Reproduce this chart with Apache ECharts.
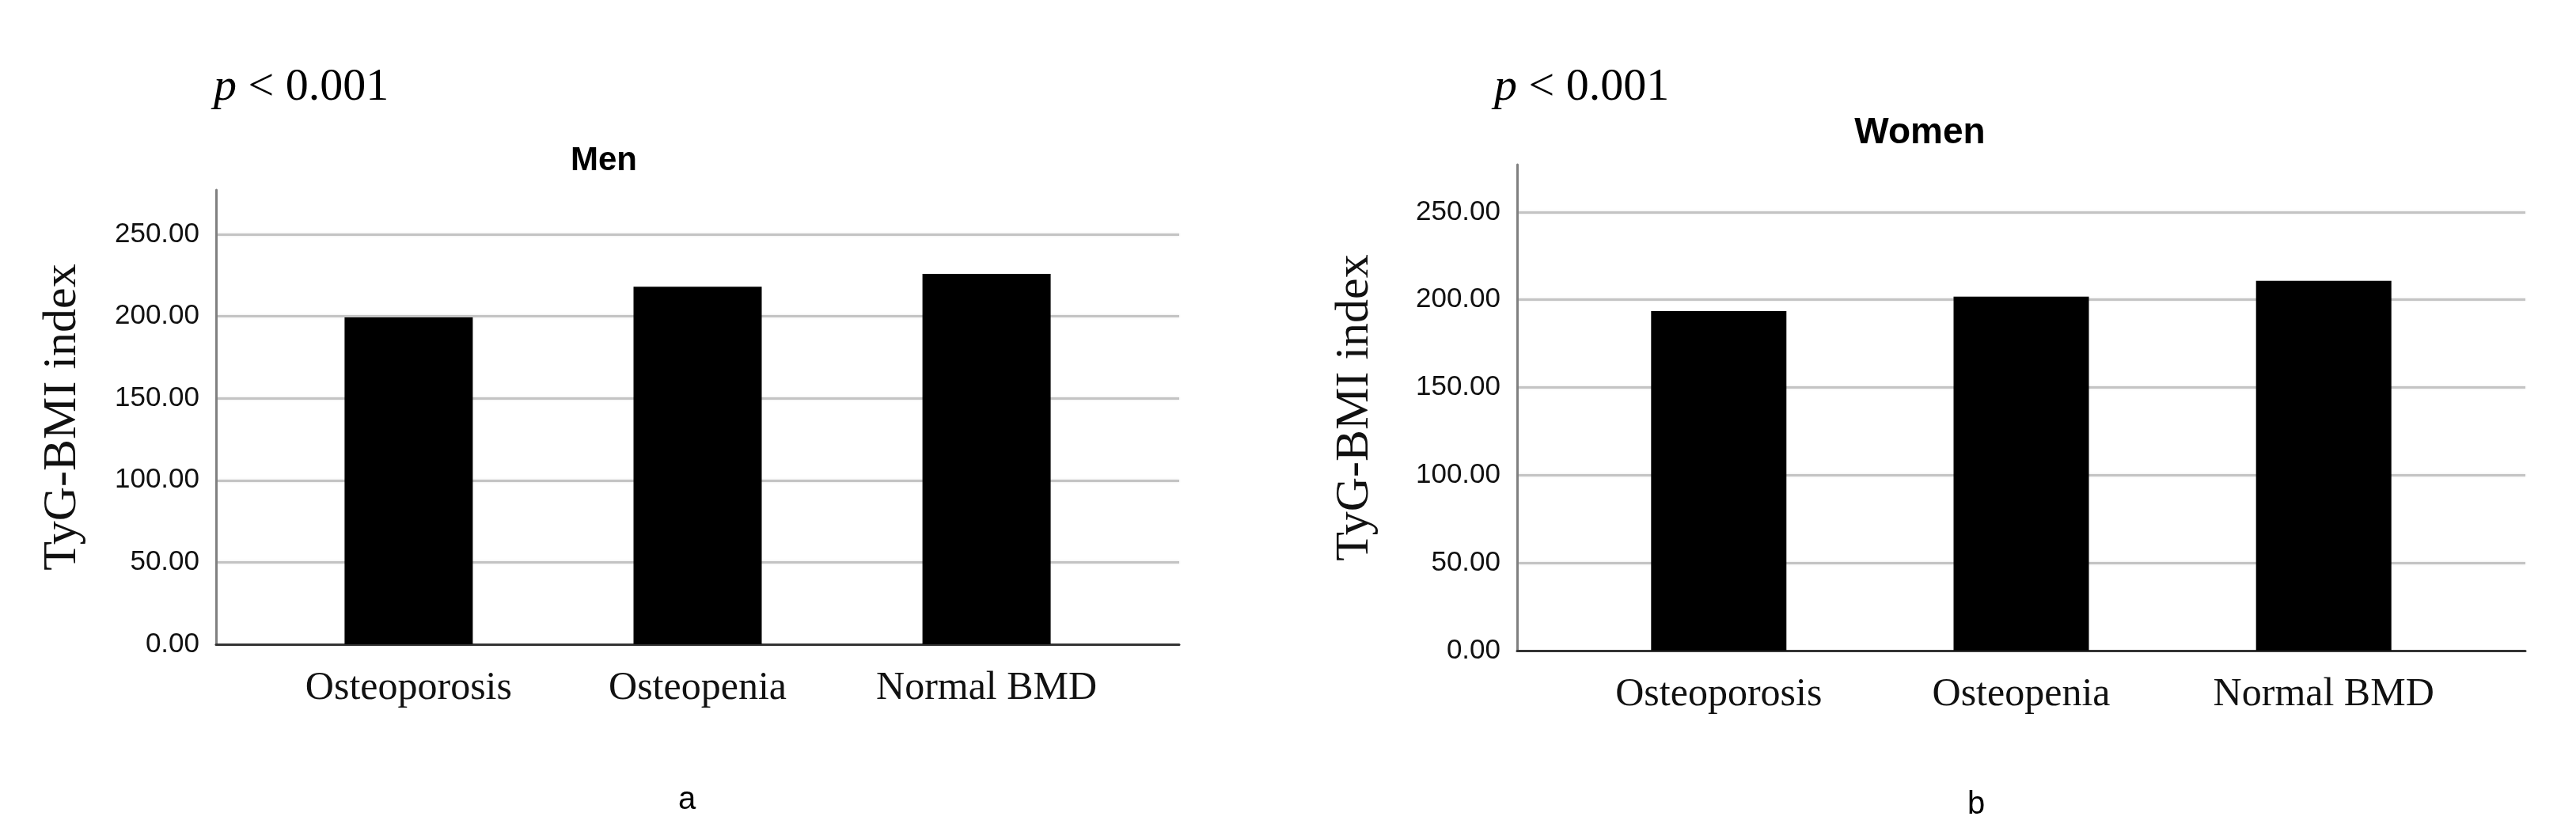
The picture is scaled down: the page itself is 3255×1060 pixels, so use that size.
<!DOCTYPE html>
<html>
<head>
<meta charset="utf-8">
<script src="https://cdn.jsdelivr.net/npm/echarts@6/dist/echarts.min.js"></script>
<style>
  html, body { margin: 0; padding: 0; background: #fff; }
  #chart { width: 3255px; height: 1060px; }
</style>
</head>
<body>
<div id="chart"></div>
<script>
// data
var categories = ["Osteoporosis", "Osteopenia", "Normal BMD"];
var menValues = [199.3, 218.0, 225.8];
var womenValues = [193.5, 201.8, 210.8];
var panelTitles = ["Men", "Women"];
var panelLetters = ["a", "b"];
var pText = "< 0.001";
var yName = "TyG-BMI index";

var sans = "'Liberation Sans', Arial, sans-serif";
var serif = "'Liberation Serif', 'Times New Roman', serif";

function makeX(idx) {
    return {
        type: "value",
        gridIndex: idx,
        min: -2 / 3,
        max: 8 / 3,
        axisLine: { show: true, onZero: false, lineStyle: { color: "#333", width: 3 } },
        axisTick: { show: false },
        splitLine: { show: false },
        axisLabel: {
            customValues: [0, 1, 2],
            formatter: function (v) { return categories[Math.round(v)]; },
            fontFamily: serif,
            fontSize: 50,
            color: "#111",
            margin: 31
        }
    };
}

function makeY(idx, gap) {
    return {
        type: "value",
        gridIndex: idx,
        min: 0,
        max: 277,
        interval: 50,
        name: yName,
        nameLocation: "middle",
        nameGap: gap,
        nameTextStyle: { fontFamily: serif, fontSize: 60, color: "#111" },
        axisLine: { show: true, onZero: false, lineStyle: { color: "#808080", width: 3 } },
        axisTick: { show: false },
        axisLabel: {
            formatter: function (v) { return v.toFixed(2); },
            showMaxLabel: false,
            fontFamily: sans,
            fontSize: 35,
            color: "#111",
            margin: 21,
            padding: [12, 0, 0, 0]
        },
        splitLine: {
            show: true,
            showMinLine: false,
            showMaxLine: false,
            lineStyle: { color: "#c4c4c4", width: 3, shadowColor: "rgba(0,0,0,0.10)", shadowBlur: 3 }
        }
    };
}

var chart = echarts.init(document.getElementById("chart"));
chart.setOption({
    animation: false,
    backgroundColor: "#fff",
    grid: [
        { left: 273, right: 1765, top: 240, bottom: 246 },
        { left: 1917, right: 64, top: 208, bottom: 238 }
    ],
    xAxis: [makeX(0), makeX(1)],
    yAxis: [makeY(0, 164), makeY(1, 175)],
    series: [
        {
            type: "bar",
            xAxisIndex: 0,
            yAxisIndex: 0,
            barWidth: 162,
            itemStyle: { color: "#000" },
            data: menValues.map(function (v, i) { return [i, v]; })
        },
        {
            type: "bar",
            xAxisIndex: 1,
            yAxisIndex: 1,
            barWidth: 171,
            itemStyle: { color: "#000" },
            data: womenValues.map(function (v, i) { return [i, v]; })
        }
    ],
    graphic: [
        {
            type: "text", x: 763, y: 203,
            style: { text: panelTitles[0], font: "bold 42px " + sans, fill: "#000", textAlign: "center", textVerticalAlign: "middle" }
        },
        {
            type: "text", x: 2426, y: 168,
            style: { text: panelTitles[1], font: "bold 46px " + sans, fill: "#000", textAlign: "center", textVerticalAlign: "middle" }
        },
        {
            type: "text", x: 270, y: 140,
            style: {
                text: "{i|p} " + pText,
                rich: { i: { fontStyle: "italic", fontFamily: serif, fontSize: 58 } },
                fontFamily: serif, fontSize: 58, fill: "#000",
                textAlign: "left", textVerticalAlign: "bottom"
            }
        },
        {
            type: "text", x: 1888, y: 140,
            style: {
                text: "{i|p} " + pText,
                rich: { i: { fontStyle: "italic", fontFamily: serif, fontSize: 58 } },
                fontFamily: serif, fontSize: 58, fill: "#000",
                textAlign: "left", textVerticalAlign: "bottom"
            }
        },
        {
            type: "text", x: 868, y: 1011,
            style: { text: panelLetters[0], font: "40px " + sans, fill: "#000", textAlign: "center", textVerticalAlign: "middle" }
        },
        {
            type: "text", x: 2497, y: 1017,
            style: { text: panelLetters[1], font: "40px " + sans, fill: "#000", textAlign: "center", textVerticalAlign: "middle" }
        }
    ]
});
</script>
</body>
</html>
